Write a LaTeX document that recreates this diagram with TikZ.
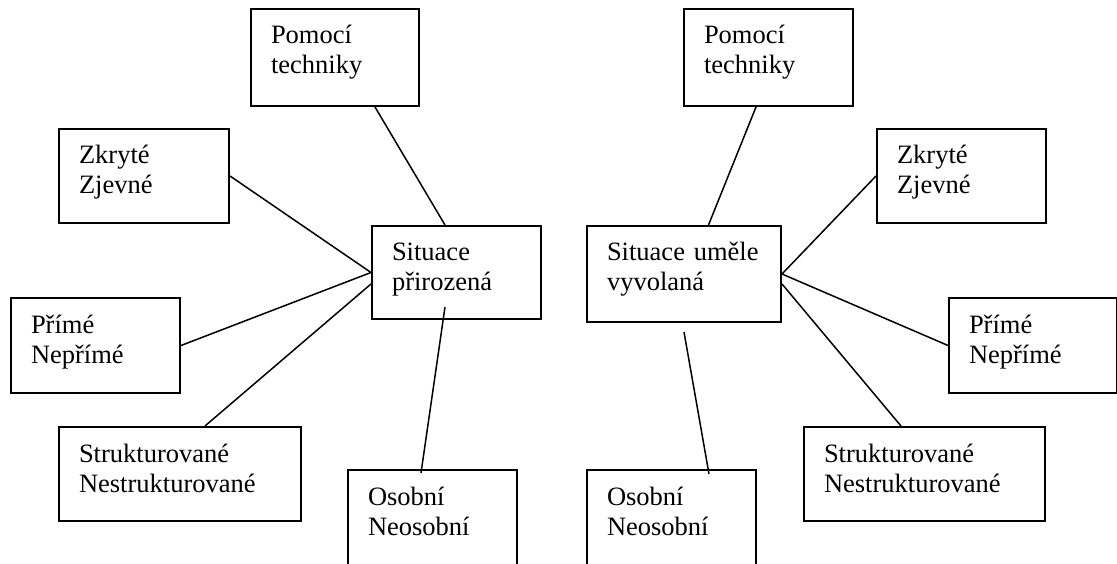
\documentclass[tikz,border=0pt]{standalone}
\usepackage{fontspec}
\setmainfont{Liberation Serif}

\begin{document}
\begin{tikzpicture}[x=1pt,y=-1pt,
  obox/.style={draw,line width=2pt,anchor=base west,align=left,
    inner xsep=20pt,inner ysep=0pt,text height=35pt,
    font=\fontsize{26.5}{30}\selectfont},
  conn/.style={line width=1.5pt}]
  \useasboundingbox (0,0) rectangle (1117,564);
  % left: Situace prirozena
  \node[obox,text width=128pt,text depth=62pt] (techL) at (250,44) {Pomocí\\techniky};
  \node[obox,text width=130pt,text depth=59pt] (skrL) at (58,164) {Zkryté\\Zjevné};
  \node[obox,text width=129pt,text depth=58pt] (sitL) at (371,261) {Situace\\přirozená};
  \node[obox,text width=129pt,text depth=60pt] (primL) at (10,333) {Přímé\\Nepřímé};
  \node[obox,text width=202pt,text depth=59pt] (strukL) at (58,462) {Strukturované\\Nestrukturované};
  \node[obox,text width=129pt,text depth=75pt] (osobL) at (347,505) {Osobní\\Neosobní};
  \draw[conn] ([xshift=40pt]techL.south) -- ([xshift=-11.5pt]sitL.north);
  \draw[conn] (skrL.east) -- (sitL.west);
  \draw[conn] (primL.east) -- (sitL.west);
  \draw[conn] ([xshift=25pt]strukL.north) -- ([yshift=-11.5pt]sitL.west);
  \draw[conn] ([xshift=-11.5pt,yshift=-4pt]osobL.north) -- ([xshift=-11.5pt,yshift=13pt]sitL.south);
  % right: Situace umele vyvolana
  \node[obox,text width=129pt,text depth=62pt] (techR) at (683,44) {Pomocí\\techniky};
  \node[obox,text width=129pt,text depth=59pt] (skrR) at (876,164) {Zkryté\\Zjevné};
  \node[obox,text width=154pt,text depth=61pt] (sitR) at (586,261) {Situace uměle\\vyvolaná};
  \node[obox,text width=128pt,text depth=60pt] (primR) at (948,333) {Přímé\\Nepřímé};
  \node[obox,text width=201pt,text depth=59pt] (strukR) at (803,462) {Strukturované\\Nestrukturované};
  \node[obox,text width=129pt,text depth=75pt] (osobR) at (586,505) {Osobní\\Neosobní};
  \draw[conn] ([xshift=-12.5pt]techR.south) -- ([xshift=24.5pt]sitR.north);
  \draw[conn] (skrR.west) -- (sitR.east);
  \draw[conn] (primR.west) -- (sitR.east);
  \draw[conn] ([xshift=-23.5pt]strukR.north) -- ([yshift=-10pt]sitR.east);
  \draw[conn] ([xshift=37.5pt,yshift=-5pt]osobR.north) -- ([yshift=-9pt]sitR.south);
\end{tikzpicture}
\end{document}
